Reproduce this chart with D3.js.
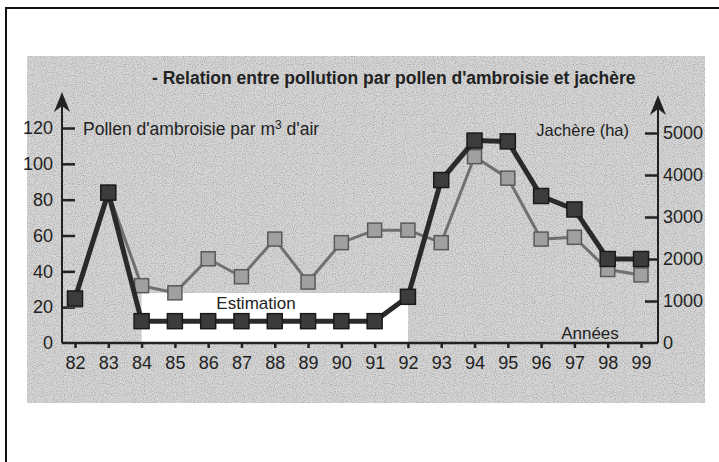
<!DOCTYPE html>
<html>
<head>
<meta charset="utf-8">
<script src="https://cdn.jsdelivr.net/npm/d3@7"></script>
<style>
  html, body { margin: 0; padding: 0; background: #fff; }
  svg { display: block; font-family: "Liberation Sans", Arial, sans-serif; }
  .tick text { font-size: 18px; fill: #222; }
  .tick line { stroke: #222; stroke-width: 2.5; }
</style>
</head>
<body>
<div id="graph"></div>
<script>
// data
const years = ["82","83","84","85","86","87","88","89","90","91","92","93","94","95","96","97","98","99"];
const pollen = [24, 84, 32, 28, 47, 37, 58, 34, 56, 63, 63, 56, 104, 92, 58, 59, 41, 38];           // per m3 air (left axis)
const jachere = [1060, 3580, 520, 520, 520, 520, 520, 520, 520, 520, 1100, 3880, 4820, 4800, 3500, 3180, 2000, 2000]; // ha (right axis)
const leftTicks = [0, 20, 40, 60, 80, 100, 120];
const rightTicks = [0, 1000, 2000, 3000, 4000, 5000];

document.addEventListener('DOMContentLoaded', () => {
  let width = 719, height = 462;
  let axL = 62, axR = 658, base = 343;

  let svg = d3.select("#graph").append("svg").attr("width", width).attr("height", height);

  // grainy print texture for the grey panel
  let defs = svg.append("defs");
  let f = defs.append("filter").attr("id", "grain").attr("x", 0).attr("y", 0).attr("width", 1).attr("height", 1);
  f.append("feTurbulence").attr("type", "fractalNoise").attr("baseFrequency", 0.9).attr("numOctaves", 1).attr("seed", 3).attr("result", "n");
  f.append("feColorMatrix").attr("in", "n").attr("type", "matrix")
    .attr("values", "0 0 0 0 0  0 0 0 0 0  0 0 0 0 0  0 0 0 -1.6 0.9").attr("result", "a");
  f.append("feComposite").attr("in", "a").attr("in2", "SourceGraphic").attr("operator", "in");

  svg.append("rect").attr("x", 27).attr("y", 56).attr("width", 678).attr("height", 347).attr("fill", "#d6d6d6");
  svg.append("rect").attr("x", 27).attr("y", 56).attr("width", 678).attr("height", 347).attr("fill", "#d6d6d6")
    .attr("filter", "url(#grain)").attr("opacity", 0.35);
  svg.append("path").attr("d", "M6,462V8H719").attr("fill", "none").attr("stroke", "#111").attr("stroke-width", 2);

  let x = d3.scalePoint().domain(years).range([75, 641]);
  let yL = d3.scaleLinear().domain([0, 120]).range([base, 128]);
  let yR = d3.scaleLinear().domain([0, 5000]).range([base, 133]);

  // "Estimation" white box
  svg.append("rect").attr("x", x("84")).attr("y", 293).attr("width", 408 - x("84")).attr("height", base - 293).attr("fill", "#fff");
  svg.append("text").attr("x", 256).attr("y", 309).attr("text-anchor", "middle").attr("font-size", 17).attr("fill", "#222").text("Estimation");

  defs.append("marker").attr("id", "arr").attr("viewBox", "0 0 10 10").attr("refX", 5).attr("refY", 5)
    .attr("markerWidth", 10).attr("markerHeight", 10).attr("orient", "auto")
    .append("path").attr("d", "M0,1L10,5L0,9L3,5Z").attr("fill", "#222");

  // axis lines
  svg.append("line").attr("x1", axL).attr("x2", axL).attr("y1", base).attr("y2", 102).attr("stroke", "#222").attr("stroke-width", 2).attr("marker-end", "url(#arr)");
  svg.append("line").attr("x1", axR).attr("x2", axR).attr("y1", base).attr("y2", 105).attr("stroke", "#222").attr("stroke-width", 2).attr("marker-end", "url(#arr)");
  svg.append("line").attr("x1", axL).attr("x2", axR).attr("y1", base).attr("y2", base).attr("stroke", "#222").attr("stroke-width", 2.5);

  let gL = svg.append("g").attr("transform", "translate(" + axL + ",0)")
    .call(d3.axisLeft(yL).tickValues(leftTicks).tickSizeInner(-13).tickSizeOuter(0).tickPadding(9));
  gL.select(".domain").remove();
  gL.selectAll(".tick").filter(d => d === 0).select("line").remove();

  let gR = svg.append("g").attr("transform", "translate(" + axR + ",0)")
    .call(d3.axisRight(yR).tickValues(rightTicks).tickFormat(d3.format("d")).tickSizeInner(-13).tickSizeOuter(0).tickPadding(5));
  gR.select(".domain").remove();
  gR.selectAll(".tick").filter(d => d === 0).select("line").remove();

  let gX = svg.append("g").attr("transform", "translate(0," + base + ")")
    .call(d3.axisBottom(x).tickSizeInner(5).tickSizeOuter(0).tickPadding(8));
  gX.select(".domain").remove();

  // labels
  svg.append("text").attr("x", 152).attr("y", 84).attr("font-size", 17.5).attr("font-weight", "bold").attr("fill", "#222")
    .text("- Relation entre pollution par pollen d'ambroisie et jachère");
  let lt = svg.append("text").attr("x", 83).attr("y", 135).attr("font-size", 17.5).attr("fill", "#222");
  lt.append("tspan").text("Pollen d'ambroisie par m");
  lt.append("tspan").attr("font-size", 12).attr("dy", -6).text("3");
  lt.append("tspan").attr("dy", 6).text(" d'air");
  svg.append("text").attr("x", 629).attr("y", 136).attr("text-anchor", "end").attr("font-size", 16.5).attr("fill", "#222").text("Jachère (ha)");
  svg.append("text").attr("x", 590).attr("y", 339).attr("text-anchor", "middle").attr("font-size", 17).attr("fill", "#222").text("Années");

  // pollen series (lighter, underneath)
  let lineL = d3.line().x((d, i) => x(years[i])).y(d => yL(d));
  svg.append("path").datum(pollen).attr("d", lineL).attr("fill", "none").attr("stroke", "#707070").attr("stroke-width", 3);
  svg.selectAll("rect.pol").data(pollen).enter().append("rect").attr("class", "pol")
    .attr("x", (d, i) => x(years[i]) - 7).attr("y", d => yL(d) - 7).attr("width", 14).attr("height", 14)
    .attr("fill", "#a0a0a0").attr("stroke", "#5a5a5a").attr("stroke-width", 1.5);

  // jachère series (dark)
  let lineR = d3.line().x((d, i) => x(years[i])).y(d => yR(d));
  svg.append("path").datum(jachere).attr("d", lineR).attr("fill", "none").attr("stroke", "#2a2a2a").attr("stroke-width", 5);
  svg.selectAll("rect.jac").data(jachere).enter().append("rect").attr("class", "jac")
    .attr("x", (d, i) => x(years[i]) - 7.5).attr("y", d => yR(d) - 7.5).attr("width", 15).attr("height", 15)
    .attr("fill", "#3c3c3c").attr("stroke", "#1a1a1a").attr("stroke-width", 1.5);
});
</script>
</body>
</html>
